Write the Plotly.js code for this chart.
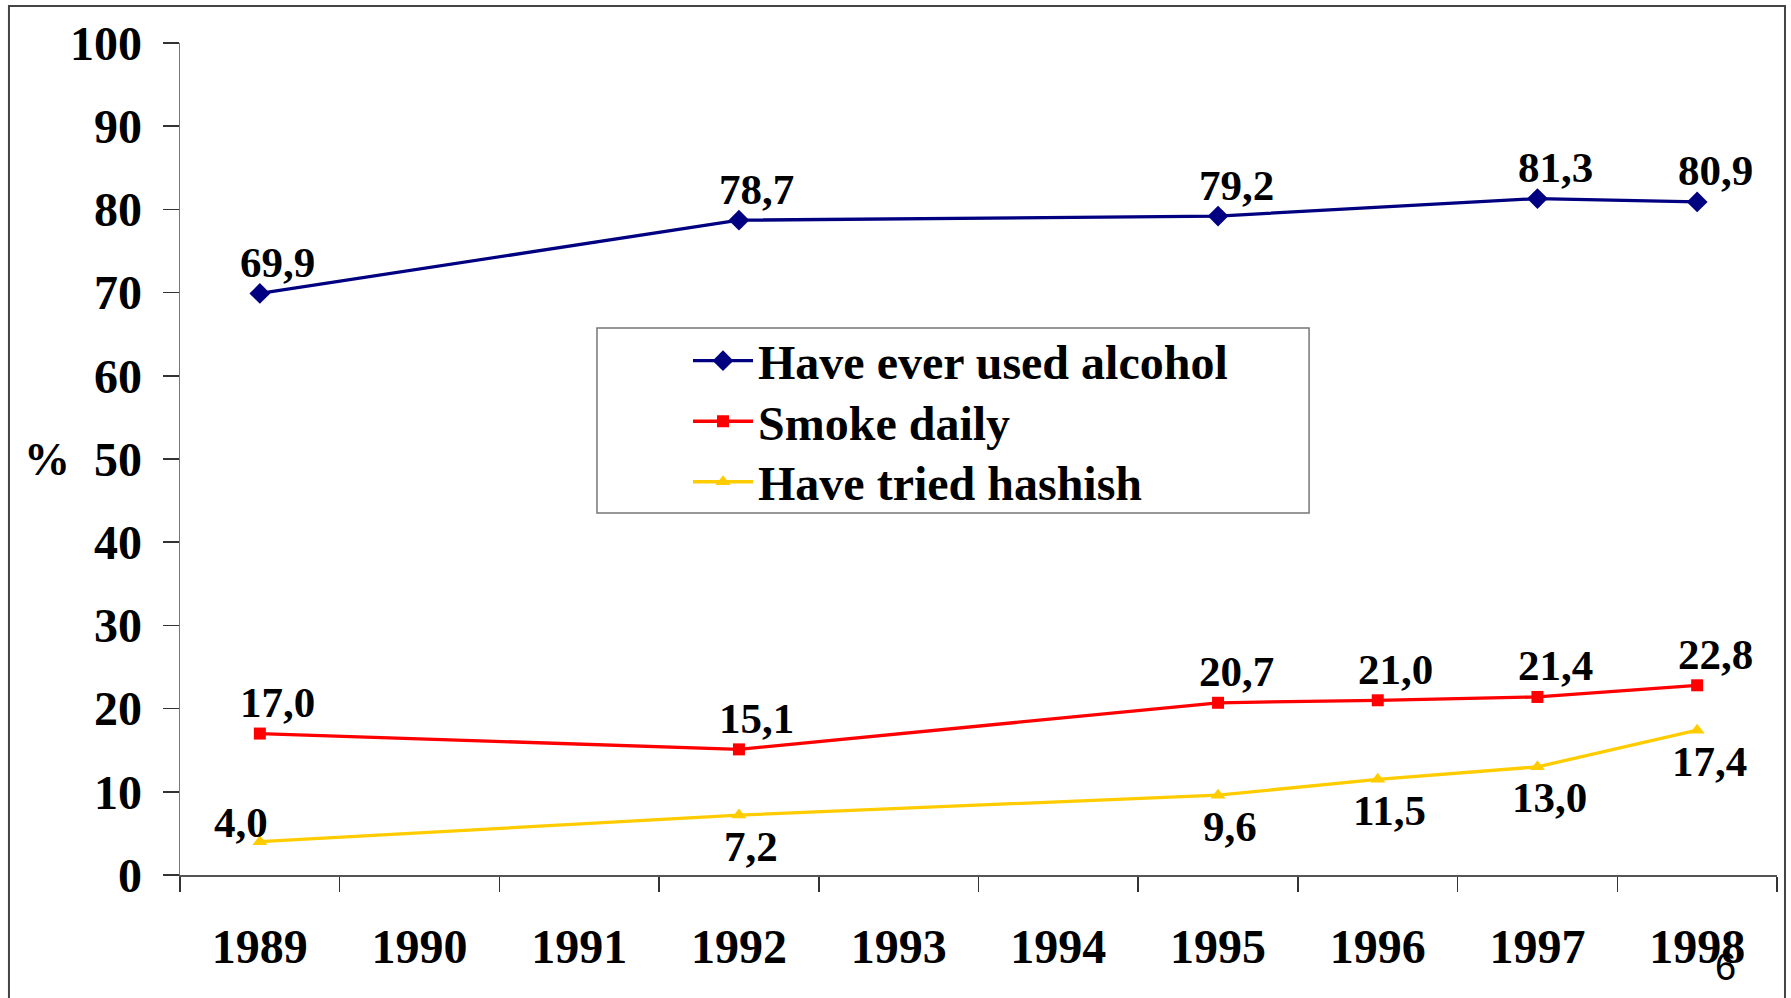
<!DOCTYPE html>
<html>
<head>
<meta charset="utf-8">
<script src="https://cdn.plot.ly/plotly-3.0.1.min.js"></script>
<style>
  html, body { margin: 0; padding: 0; background: #fff; }
  #chart { width: 1791px; height: 998px; }
</style>
</head>
<body>
<div id="chart"></div>
<script>
// ---- data ----
const years = ['1989', '1990', '1991', '1992', '1993', '1994', '1995', '1996', '1997', '1998'];
const alcohol = [69.9, null, null, 78.7, null, null, 79.2, null, 81.3, 80.9];
const smoke   = [17.0, null, null, 15.1, null, null, 20.7, 21.0, 21.4, 22.8];
const hashish = [4.0, null, null, 7.2, null, null, 9.6, 11.5, 13.0, 17.4];
const seriesNames = ['Have ever used alcohol', 'Smoke daily', 'Have tried hashish'];
const yTicks = [0, 10, 20, 30, 40, 50, 60, 70, 80, 90, 100];

// ---- styling ----
const serif = 'Liberation Serif, Times New Roman, serif';
const colors = ['#000080', '#FF0000', '#FFCC00'];
const symbols = ['diamond', 'square', 'triangle-up'];
const markerSizes = [16, 12, 13];
const legendNames = ['legend', 'legend2', 'legend3'];
const legendY = [0.6178, 0.5450, 0.4723];

const allSeries = [alcohol, smoke, hashish];
const traces = allSeries.map((vals, i) => ({
  type: 'scatter',
  mode: 'lines+markers',
  name: seriesNames[i],
  legend: legendNames[i],
  x: years,
  y: vals,
  connectgaps: true,
  line: { color: colors[i], width: 3.3 },
  marker: { color: colors[i], symbol: symbols[i], size: markerSizes[i] },
  hoverinfo: 'x+y'
}));

const fmt = v => v.toFixed(1).replace('.', ',');

// data labels as annotations (computed from the arrays above)
const annotations = [];
allSeries.forEach((vals, si) => {
  vals.forEach((v, k) => {
    if (v === null) return;
    let xs = 18, ys = 31;
    if (si === 2) {
      if (k === 0) { xs = -19; ys = 19; }
      else { xs = 12; ys = -31; }
    }
    annotations.push({
      x: k, y: v, xref: 'x', yref: 'y',
      text: fmt(v), showarrow: false,
      xshift: xs, yshift: ys,
      font: { family: serif, size: 43, color: '#000', weight: 'bold' }
    });
  });
});

// "%" axis label
annotations.push({
  xref: 'paper', yref: 'y', x: -0.083, y: 50,
  text: '%', showarrow: false, xanchor: 'center', yanchor: 'middle',
  font: { family: serif, size: 46, color: '#000', weight: 'bold' }
});
// page number
annotations.push({
  xref: 'paper', yref: 'paper', x: 0.968, y: -0.11,
  text: '6', showarrow: false, xanchor: 'center', yanchor: 'middle',
  font: { family: 'Liberation Sans, Arial, sans-serif', size: 38, color: '#000' }
});

const legendBase = (i) => ({
  x: 0.3181, y: legendY[i], xanchor: 'left', yanchor: 'middle',
  bgcolor: 'rgba(0,0,0,0)', borderwidth: 0,
  font: { family: serif, size: 48, color: '#000', weight: 'bold' },
  itemwidth: 60
});

const layout = {
  width: 1791, height: 998,
  margin: { l: 180, r: 14, t: 43, b: 123, pad: 0 },
  paper_bgcolor: '#fff', plot_bgcolor: '#fff',
  showlegend: true,
  legend: legendBase(0),
  legend2: legendBase(1),
  legend3: legendBase(2),
  xaxis: {
    type: 'category',
    categoryorder: 'array', categoryarray: years,
    range: [-0.5, 9.5],
    tickson: 'boundaries',
    ticks: 'outside', ticklen: 15, tickwidth: 1.5, tickcolor: '#333',
    showline: true, linecolor: '#555', linewidth: 1.5,
    showgrid: false, zeroline: false,
    tickfont: { family: serif, size: 48, color: '#000', weight: 'bold' },
    ticklabelstandoff: 29
  },
  yaxis: {
    range: [0, 100],
    tickvals: yTicks,
    ticks: 'outside', ticklen: 16, tickwidth: 1.5, tickcolor: '#333',
    showline: true, linecolor: '#777', linewidth: 1.5,
    showgrid: false, zeroline: false,
    tickfont: { family: serif, size: 48, color: '#000', weight: 'bold' },
    ticklabelstandoff: 11
  },
  shapes: [
    // outer frame
    { type: 'rect', xref: 'paper', yref: 'paper',
      x0: -0.1071, x1: 1.005, y0: -0.16, y1: 1.0445,
      line: { color: '#444', width: 2 }, fillcolor: 'rgba(0,0,0,0)', layer: 'below' },
    // legend box
    { type: 'rect', xref: 'paper', yref: 'paper',
      x0: 0.2611, x1: 0.7070, y0: 0.4351, y1: 0.6575,
      line: { color: '#777', width: 1.5 }, fillcolor: '#fff', layer: 'above' }
  ],
  annotations: annotations
};

Plotly.newPlot('chart', traces, layout, { displayModeBar: false, staticPlot: true });
</script>
</body>
</html>
